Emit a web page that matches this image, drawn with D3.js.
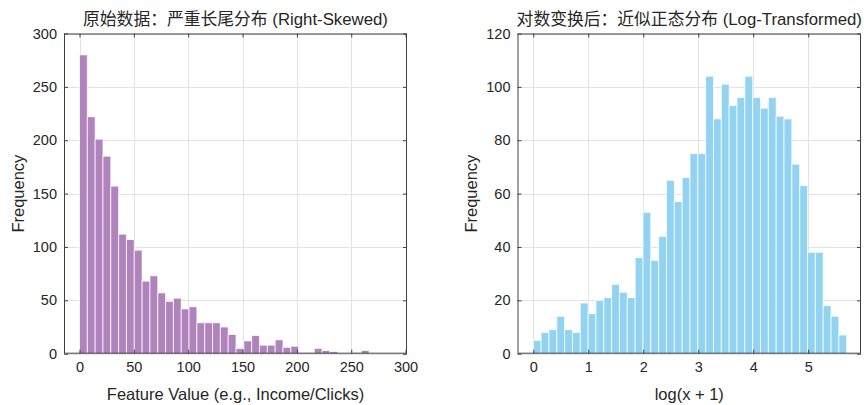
<!DOCTYPE html>
<html><head><meta charset="utf-8">
<script src="https://cdn.jsdelivr.net/npm/d3@7/dist/d3.min.js"></script>
<style>body{margin:0;background:#fff}svg{display:block}</style>
</head><body>
<svg id="chart" width="864" height="405"></svg>
<script>
// ---- data ----
const rawCounts = [280,222,201,185,157,112,107,97,68,73,57,49,52,42,44,29,29,29,25,18,5,12,17,8,8,13,6,7,1,1,5,3,2,0,0,1,3,0,0,0];
const rawBinStart = 0;
const rawBinWidth = 7.2;
const logCounts = [5,8,9,14,9,8,19,15,20,21,26,23,21,36,53,35,44,65,57,66,75,75,104,88,101,93,96,104,96,92,96,89,88,71,63,38,38,18,14,7];
const logBinStart = 0;
const logBinWidth = 0.1425;
const rawXTicks = [0,50,100,150,200,250,300];
const rawYTicks = [0,50,100,150,200,250,300];
const logXTicks = [0,1,2,3,4,5];
const logYTicks = [0,20,40,60,80,100,120];
const rawTitle = "原始数据：严重长尾分布 (Right-Skewed)";
const logTitle = "对数变换后：近似正态分布 (Log-Transformed)";
const rawXLabel = "Feature Value (e.g., Income/Clicks)";
const logXLabel = "log(x + 1)";
const yLabel = "Frequency";

const svg = d3.select("#chart");
const FONT = "'Liberation Sans', Arial, 'Noto Sans CJK SC', sans-serif";
const TXT = "#262626";

function panel(o) {
  const x = d3.scaleLinear().domain(o.xDomain).range([o.left, o.left + o.width]);
  const y = d3.scaleLinear().domain(o.yDomain).range([o.bottom, o.top]);
  const g = svg.append("g");
  // grid
  g.append("g").selectAll("line").data(o.xTicks).join("line")
    .attr("x1", d => Math.round(x(d)) + 0.5).attr("x2", d => Math.round(x(d)) + 0.5)
    .attr("y1", o.top).attr("y2", o.bottom)
    .attr("stroke", "#e3e3e3").attr("stroke-width", 1);
  g.append("g").selectAll("line").data(o.yTicks).join("line")
    .attr("y1", d => Math.round(y(d)) + 0.5).attr("y2", d => Math.round(y(d)) + 0.5)
    .attr("x1", o.left).attr("x2", o.left + o.width)
    .attr("stroke", "#e3e3e3").attr("stroke-width", 1);
  // bars
  const bins = o.counts.map((c, i) => ({x0: o.binStart + i * o.binWidth, x1: o.binStart + (i + 1) * o.binWidth, c}));
  g.append("g").selectAll("rect").data(bins.filter(b => b.c > 0)).join("rect")
    .attr("x", d => x(d.x0)).attr("width", d => x(d.x1) - x(d.x0))
    .attr("y", d => y(d.c)).attr("height", d => y(0) - y(d.c))
    .attr("fill", o.color).attr("stroke", "#ffffff").attr("stroke-opacity", 0.75).attr("stroke-width", 1);
  // axes
  const styleAxis = sel => {
    sel.select(".domain").remove();
    sel.selectAll("line").attr("stroke", "#404040");
    sel.selectAll("text").attr("fill", TXT).style("font-family", FONT).style("font-size", "14.5px");
  };
  const fmt = d => String(d);
  g.append("g").attr("transform", `translate(0,${o.bottom})`)
    .call(d3.axisBottom(x).tickValues(o.xTicks).tickFormat(fmt).tickSizeInner(-4).tickSizeOuter(0).tickPadding(8)).call(styleAxis);
  g.append("g").attr("transform", `translate(0,${o.top})`)
    .call(d3.axisTop(x).tickValues(o.xTicks).tickSizeInner(-4).tickSizeOuter(0).tickFormat("")).call(styleAxis);
  g.append("g").attr("transform", `translate(${o.left},0)`)
    .call(d3.axisLeft(y).tickValues(o.yTicks).tickFormat(fmt).tickSizeInner(-4).tickSizeOuter(0).tickPadding(7)).call(styleAxis);
  g.append("g").attr("transform", `translate(${o.left + o.width},0)`)
    .call(d3.axisRight(y).tickValues(o.yTicks).tickSizeInner(-4).tickSizeOuter(0).tickFormat("")).call(styleAxis);
  // box
  g.append("rect").attr("x", o.left + 0.5).attr("y", o.top + 0.5)
    .attr("width", o.width - 1).attr("height", o.bottom - o.top - 1)
    .attr("fill", "none").attr("stroke", "#404040").attr("stroke-width", 1);
  // title & labels
  const cx = o.left + o.width / 2;
  g.append("text").attr("x", cx).attr("y", 25).attr("text-anchor", "middle")
    .attr("fill", TXT).style("font-family", FONT).style("font-size", "16.8px").text(o.title);
  g.append("text").attr("x", cx).attr("y", 400).attr("text-anchor", "middle")
    .attr("fill", TXT).style("font-family", FONT).style("font-size", "16.5px").text(o.xLabel);
  g.append("text").attr("transform", `translate(${o.left - 40.5},${(o.top + o.bottom) / 2}) rotate(-90)`)
    .attr("text-anchor", "middle").attr("fill", TXT).style("font-family", FONT).style("font-size", "16.5px").text(yLabel);
}

panel({left: 64, width: 343, top: 33.5, bottom: 353.7, xDomain: [-14.26, 301.3], yDomain: [0, 300],
  xTicks: rawXTicks, yTicks: rawYTicks, counts: rawCounts, binStart: rawBinStart, binWidth: rawBinWidth,
  color: "#b183bc", title: rawTitle, xLabel: rawXLabel});
panel({left: 517.5, width: 343.5, top: 33.5, bottom: 353.7, xDomain: [-0.287, 5.96], yDomain: [0, 120],
  xTicks: logXTicks, yTicks: logYTicks, counts: logCounts, binStart: logBinStart, binWidth: logBinWidth,
  color: "#93d3f2", title: logTitle, xLabel: logXLabel});
</script>
</body></html>
